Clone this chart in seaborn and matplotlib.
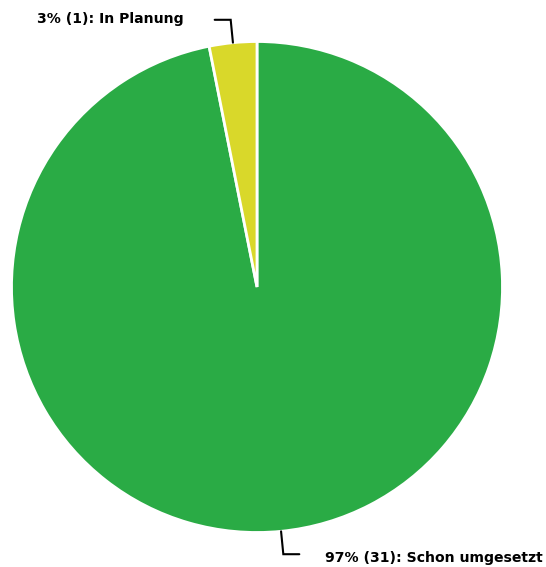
import numpy as np
import seaborn as sns
import matplotlib.pyplot as plt

# data
labels = ['Schon umgesetzt', 'In Planung']
counts = [31, 1]
colors = ['#2aab45', '#d9d82a']

sns.set_style('white')
plt.rcParams['font.family'] = ['DejaVu Sans']

fig = plt.figure(figsize=(5.46, 5.67), dpi=100)
ax = fig.add_axes([0, 0, 1, 1])

cx, cy, r = 257, 280, 245.5
wedges, _ = ax.pie(counts, colors=colors, startangle=90, counterclock=False,
                   center=(cx, cy), radius=r, frame=True,
                   wedgeprops=dict(edgecolor='white', linewidth=2))
ax.set_xlim(0, 546)
ax.set_ylim(0, 567)
ax.set_aspect('equal')
ax.axis('off')

total = sum(counts)
for w, lab, n in zip(wedges, labels, counts):
    mid = np.deg2rad((w.theta1 + w.theta2) / 2)
    x0, y0 = cx + r * np.cos(mid), cy + r * np.sin(mid)
    x1, y1 = cx + (r + 23) * np.cos(mid), cy + (r + 23) * np.sin(mid)
    side = 1 if np.cos(mid) > 0 else -1
    x2 = x1 + side * 16
    ax.plot([x0, x1, x2], [y0, y1, y1], color='black', lw=1.5,
            solid_joinstyle='miter')
    txt = f'{round(100 * n / total)}% ({n}): {lab}'
    if side > 0:
        ax.text(x2 + 26, y1 - 4, txt, ha='left', va='center', color='black',
                fontsize=10.1, fontweight='bold')
    else:
        ax.text(x2 - 31, y1 + 1, txt, ha='right', va='center', color='black',
                fontsize=10.1, fontweight='bold')

fig.savefig('out.png', dpi=100)
